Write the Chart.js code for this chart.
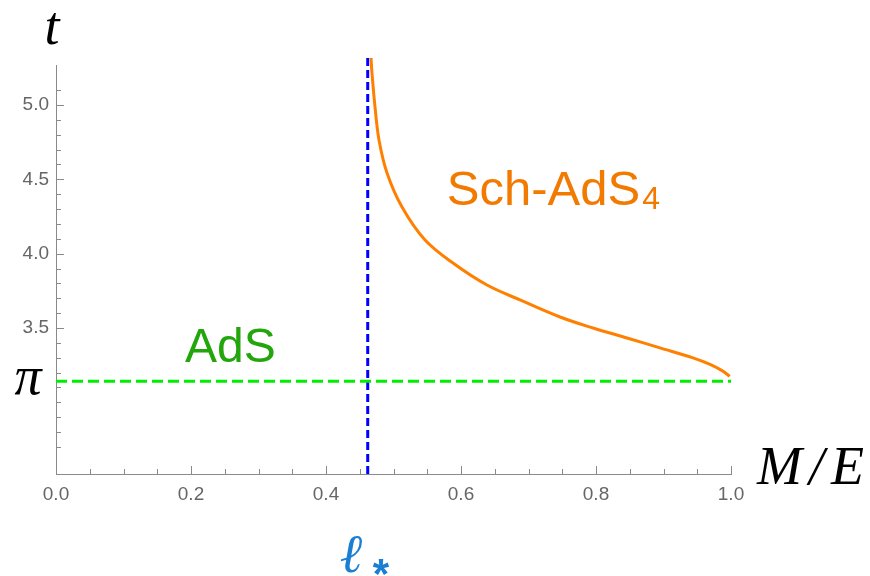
<!DOCTYPE html>
<html>
<head>
<meta charset="utf-8">
<script src="https://cdn.jsdelivr.net/npm/chart.js@4.4.0/dist/chart.umd.min.js"></script>
<style>
  html, body { margin: 0; padding: 0; background: #ffffff; }
  canvas { display: block; }
</style>
</head>
<body>
<canvas id="c" width="870" height="576"></canvas>
<script>
// ---- data ----
const ellStar = 0.4618;                 // position of the blue dashed line (ℓ*)
const yMin = 2.518, yMax = 5.269;       // visible t range
const xMin = 0, xMax = 1;
const tTop = 5.316;                     // curves run slightly past the axis top

// Sch-AdS4 branch t(M/E)
const schX = [0.4667, 0.4681, 0.4726, 0.4785, 0.4904, 0.5126, 0.5467, 0.5881, 0.6385, 0.6874, 0.7467, 0.7956, 0.8459, 0.8948, 0.9437, 0.9689, 0.9880, 0.998];
const schT = [5.316, 5.215, 4.987, 4.765, 4.543, 4.314, 4.092, 3.937, 3.789, 3.689, 3.574, 3.500, 3.433, 3.366, 3.299, 3.255, 3.210, 3.175];

// AdS branch: t = π
const adsX = [0, 1];
const adsT = [Math.PI, Math.PI];

// vertical line at ℓ*
const ellX = [ellStar, ellStar];
const ellT = [yMin, tTop];

// tick labels
const xTickLabels = ['0.0', '0.2', '0.4', '0.6', '0.8', '1.0'];
const yTickLabels = ['3.5', '4.0', '4.5', '5.0'];

const toPts = (xs, ys) => xs.map((x, i) => ({ x: x, y: ys[i] }));

const tickColor = '#8a8a8a';
const labelColor = '#666666';

const inwardTicks = {
  id: 'inwardTicks',
  afterDraw(chart) {
    const ctx = chart.ctx;
    const xs = chart.scales.x, ys = chart.scales.y;
    const ca = chart.chartArea;
    ctx.save();
    ctx.strokeStyle = tickColor;
    ctx.lineWidth = 1;
    ys.ticks.forEach(t => {
      const v = t.value;
      if (Math.abs(v * 10 - Math.round(v * 10)) > 1e-6) return;
      const major = yTickLabels.includes(v.toFixed(1));
      const py = Math.round(ys.getPixelForValue(v)) + 0.5;
      ctx.beginPath();
      ctx.moveTo(ca.left, py);
      ctx.lineTo(ca.left + (major ? 8 : 5), py);
      ctx.stroke();
    });
    xs.ticks.forEach(t => {
      const v = t.value;
      const major = xTickLabels.includes(v.toFixed(1)) && Math.abs(v * 5 - Math.round(v * 5)) < 1e-6;
      const px = Math.round(xs.getPixelForValue(v)) + 0.5;
      ctx.beginPath();
      ctx.moveTo(px, ca.bottom);
      ctx.lineTo(px, ca.bottom - (major ? 8 : 5));
      ctx.stroke();
    });
    ctx.restore();
  }
};

const annotations = {
  id: 'annotations',
  afterDraw(chart) {
    const ctx = chart.ctx;
    const xs = chart.scales.x, ys = chart.scales.y;
    const ca = chart.chartArea;
    ctx.save();
    ctx.textBaseline = 'alphabetic';
    ctx.fillStyle = '#000000';
    ctx.font = 'italic 54px "Liberation Serif"';
    ctx.textAlign = 'center';
    ctx.fillText('t', ca.left - 4, ca.top - 21);
    ctx.fillText('π', 28, ys.getPixelForValue(Math.PI) + 13);
    ctx.textAlign = 'left';
    let mx = ca.right + 26;
    const mb = ca.bottom + 10;
    ['M', '/', 'E'].forEach(ch => {
      ctx.fillText(ch, mx, mb);
      mx += ctx.measureText(ch).width + 7;
    });
    const ex = xs.getPixelForValue(ellStar);
    ctx.fillStyle = '#1a7fd2';
    ctx.font = 'italic 54px "DejaVu Serif"';
    ctx.fillText('ℓ', ex - 28, 572);
    ctx.font = 'bold 42px "Liberation Sans"';
    const am = ctx.measureText('*');
    const aBase = 567 + (am.actualBoundingBoxAscent - am.actualBoundingBoxDescent) / 2;
    ctx.fillText('*', ex + 5, aBase);
    ctx.fillStyle = '#23a50c';
    ctx.font = '48px "Liberation Sans"';
    ctx.fillText('AdS', xs.getPixelForValue(0.191), ys.getPixelForValue(3.272));
    ctx.fillStyle = '#f27a00';
    ctx.font = '49px "Liberation Sans"';
    const sx = xs.getPixelForValue(0.579), sy = ys.getPixelForValue(4.327);
    ctx.fillText('Sch-AdS', sx, sy);
    const w = ctx.measureText('Sch-AdS').width;
    ctx.font = '32px "Liberation Sans"';
    ctx.fillText('4', sx + w + 2, sy + 4);
    ctx.restore();
  }
};

new Chart(document.getElementById('c'), {
  type: 'scatter',
  data: {
    datasets: [
      {
        data: toPts(adsX, adsT), showLine: true, borderColor: '#00ee00', borderWidth: 3,
        borderDash: [11, 5], pointRadius: 0, clip: false
      },
      {
        data: toPts(schX, schT), showLine: true, borderColor: '#ff8000', borderWidth: 3,
        tension: 0.35, pointRadius: 0, clip: false
      },
      {
        data: toPts(ellX, ellT), showLine: true, borderColor: '#0000ff', borderWidth: 3,
        borderDash: [8, 4], pointRadius: 0, clip: false
      }
    ]
  },
  options: {
    responsive: false,
    animation: false,
    devicePixelRatio: 1,
    layout: { padding: { left: 0, top: 65, right: 139, bottom: 0 } },
    plugins: { legend: { display: false }, tooltip: { enabled: false } },
    scales: {
      x: {
        type: 'linear', min: xMin, max: xMax,
        grid: { display: false, drawTicks: false, tickLength: 0 },
        border: { display: true, color: tickColor, width: 1 },
        ticks: {
          stepSize: 0.05, autoSkip: false, maxRotation: 0, padding: 9,
          color: labelColor, font: { family: '"Liberation Sans"', size: 19 },
          callback: (v) => {
            const s = Number(v).toFixed(1);
            return (Math.abs(v * 5 - Math.round(v * 5)) < 1e-6 && xTickLabels.includes(s)) ? s : '';
          }
        },
        afterFit: (s) => { s.height = 102; }
      },
      y: {
        type: 'linear', min: yMin, max: yMax,
        grid: { display: false, drawTicks: false, tickLength: 0 },
        border: { display: true, color: tickColor, width: 1 },
        ticks: {
          stepSize: 0.1, autoSkip: false, padding: 7,
          color: labelColor, font: { family: '"Liberation Sans"', size: 19 },
          callback: (v) => {
            const s = Number(v).toFixed(1);
            return (Math.abs(v * 10 - Math.round(v * 10)) < 1e-6 && yTickLabels.includes(s)) ? s : '';
          }
        },
        afterFit: (s) => { s.width = 56; }
      }
    }
  },
  plugins: [inwardTicks, annotations]
});
</script>
</body>
</html>
